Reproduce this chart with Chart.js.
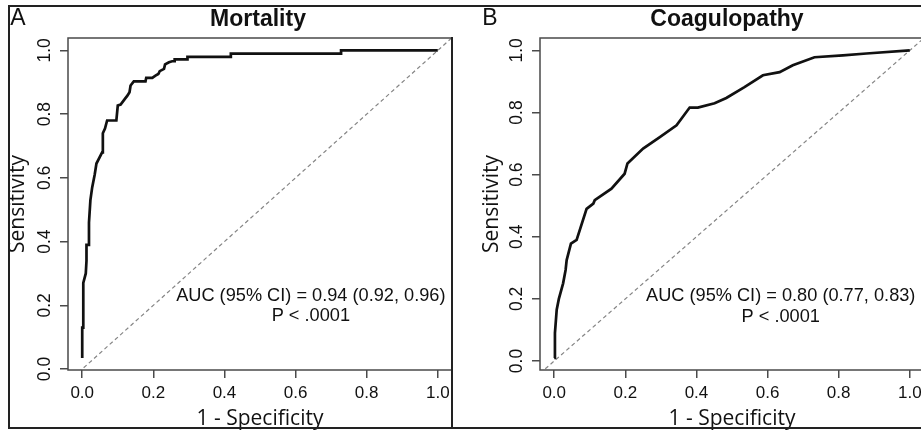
<!DOCTYPE html>
<html>
<head>
<meta charset="utf-8">
<script src="https://cdn.jsdelivr.net/npm/chart.js@4.4.1/dist/chart.umd.min.js"></script>
<style>
    html, body { margin: 0; padding: 0; background: #fff; }
    body { width: 921px; height: 430px; position: relative; overflow: hidden; }
    canvas { position: absolute; top: 0; }
    #rocA { left: 0; width: 460px; height: 430px; }
    #rocB { left: 460px; width: 470px; height: 430px; }
    .rule { position: absolute; background: #222; }
</style>
</head>
<body>
<canvas id="rocA" width="460" height="430"></canvas>
<canvas id="rocB" width="470" height="430"></canvas>
<div class="rule" style="left:8px; top:5px; width:913px; height:1.5px;"></div>
<div class="rule" style="left:8px; top:427px; width:913px; height:1.5px;"></div>
<div class="rule" style="left:8px; top:5px; width:1.5px; height:423px;"></div>
<div class="rule" style="left:451px; top:37px; width:1.5px; height:391px;"></div>
<script>
document.addEventListener('DOMContentLoaded', init);

const X_TICKS = [0, 0.2, 0.4, 0.6, 0.8, 1.0];
const Y_TICKS = [0, 0.2, 0.4, 0.6, 0.8, 1.0];
const CHANCE_LINE = [-0.04, 1.04];

// Mortality ROC (1 - specificity, sensitivity)
const mortalityFpr = [0.000, 0.000, 0.003, 0.003, 0.010, 0.012, 0.012, 0.019, 0.019, 0.023, 0.028,
    0.035, 0.040, 0.056, 0.058, 0.058, 0.064, 0.070, 0.096, 0.100, 0.108, 0.120, 0.127, 0.133,
    0.136, 0.145, 0.178, 0.180, 0.197, 0.206, 0.214, 0.218, 0.230, 0.233, 0.244, 0.253, 0.260,
    0.260, 0.296, 0.296, 0.418, 0.418, 0.728, 0.728, 1.000];
const mortalitySens = [0.035, 0.130, 0.130, 0.270, 0.300, 0.340, 0.390, 0.390, 0.460, 0.530, 0.570,
    0.610, 0.645, 0.680, 0.690, 0.740, 0.755, 0.780, 0.780, 0.827, 0.830, 0.848, 0.858, 0.869,
    0.890, 0.903, 0.903, 0.914, 0.914, 0.921, 0.926, 0.935, 0.942, 0.956, 0.963, 0.966, 0.966,
    0.972, 0.972, 0.980, 0.980, 0.990, 0.990, 1.000, 1.000];

// Coagulopathy ROC
const coagFpr = [0.000, 0.002, 0.007, 0.013, 0.025, 0.032, 0.035, 0.047, 0.063, 0.091, 0.110,
    0.114, 0.161, 0.198, 0.206, 0.250, 0.297, 0.344, 0.381, 0.404, 0.451, 0.484, 0.535, 0.587,
    0.634, 0.671, 0.732, 0.812, 0.878, 1.000];
const coagSens = [0.010, 0.090, 0.165, 0.200, 0.250, 0.293, 0.325, 0.378, 0.390, 0.490, 0.507,
    0.518, 0.555, 0.603, 0.636, 0.684, 0.721, 0.759, 0.816, 0.816, 0.830, 0.847, 0.882, 0.920,
    0.930, 0.952, 0.978, 0.984, 0.990, 1.000];

const ARIAL = '"Liberation Sans", Arial, sans-serif';

// box around the plot area, panel letter, bold title and the AUC note
const rocDecor = {
    id: 'rocDecor',
    afterDraw(chart, args, opts) {
        const { ctx, chartArea: a, scales: { x, y } } = chart;
        ctx.save();
        ctx.strokeStyle = '#4a4a4a';
        ctx.lineWidth = 1.5;
        ctx.strokeRect(a.left, a.top, a.right - a.left, a.bottom - a.top);

        ctx.fillStyle = '#111';
        ctx.textAlign = 'center';
        ctx.textBaseline = 'middle';
        ctx.font = `23px ${ARIAL}`;
        ctx.fillText(opts.letter, opts.letterX, 19);
        ctx.font = `bold 23px ${ARIAL}`;
        ctx.fillText(opts.title, opts.titleX, 20);

        ctx.font = `18.2px ${ARIAL}`;
        opts.note.forEach((line, i) => {
            ctx.fillText(line, x.getPixelForValue(opts.noteX), y.getPixelForValue(opts.noteY[i]));
        });
        ctx.restore();
    }
};

function init() {
    makeRoc('rocA', {
        fpr: mortalityFpr, sens: mortalitySens,
        yMin: -0.003, yMax: 1.039,
        axisWidth: 68, titlePad: 8, padRight: 8,
        decor: {
            letter: 'A', letterX: 18, title: 'Mortality', titleX: 258,
            note: ['AUC (95% CI) = 0.94 (0.92, 0.96)', 'P < .0001'],
            noteX: 0.643, noteY: [0.23, 0.165]
        }
    });
    makeRoc('rocB', {
        fpr: coagFpr, sens: coagSens,
        yMin: -0.029, yMax: 1.04,
        axisWidth: 80, titlePad: 22, padRight: 6,
        decor: {
            letter: 'B', letterX: 30, title: 'Coagulopathy', titleX: 267,
            note: ['AUC (95% CI) = 0.80 (0.77, 0.83)', 'P < .0001'],
            noteX: 0.637, noteY: [0.21, 0.1425]
        }
    });
}

function makeRoc(canvasId, cfg) {
    const ctx = document.getElementById(canvasId).getContext('2d');
    const curve = cfg.fpr.map((v, i) => ({ x: v, y: cfg.sens[i] }));
    const chance = CHANCE_LINE.map(v => ({ x: v, y: v }));

    return new Chart(ctx, {
        type: 'line',
        data: {
            datasets: [{
                data: curve,
                borderColor: '#111',
                borderWidth: 2.7,
                pointRadius: 0,
                tension: 0,
                fill: false
            }, {
                data: chance,
                borderColor: '#858585',
                borderWidth: 1.2,
                borderDash: [4, 3],
                pointRadius: 0,
                fill: false
            }]
        },
        options: {
            responsive: false,
            animation: false,
            events: [],
            layout: { padding: { top: 38, right: cfg.padRight, left: 0, bottom: 0 } },
            plugins: {
                legend: { display: false },
                tooltip: { enabled: false },
                rocDecor: cfg.decor
            },
            scales: {
                x: {
                    type: 'linear',
                    min: -0.04,
                    max: 1.04,
                    afterBuildTicks: s => { s.ticks = X_TICKS.map(v => ({ value: v })); },
                    afterFit: s => { s.height = 60; },
                    grid: { drawOnChartArea: false, drawTicks: true, tickLength: 8, color: '#4a4a4a', lineWidth: 1.5 },
                    border: { display: false },
                    ticks: {
                        color: '#111',
                        padding: 5,
                        maxRotation: 0,
                        font: { family: ARIAL, size: 17 },
                        callback: v => v.toFixed(1)
                    },
                    title: {
                        display: true,
                        text: '1 - Specificity',
                        color: '#111',
                        padding: { top: 0, bottom: 0 },
                        font: { family: '"Open Sans", sans-serif', size: 21, lineHeight: 1 }
                    }
                },
                y: {
                    type: 'linear',
                    min: cfg.yMin,
                    max: cfg.yMax,
                    afterBuildTicks: s => { s.ticks = Y_TICKS.map(v => ({ value: v })); },
                    afterFit: s => { s.width = cfg.axisWidth; },
                    grid: { drawOnChartArea: false, drawTicks: true, tickLength: 8, color: '#4a4a4a', lineWidth: 1.5 },
                    border: { display: false },
                    ticks: {
                        color: '#111',
                        padding: 3,
                        minRotation: 90,
                        maxRotation: 90,
                        crossAlign: 'center',
                        font: { family: ARIAL, size: 17.5 },
                        callback: v => v.toFixed(1)
                    },
                    title: {
                        display: true,
                        text: 'Sensitivity',
                        color: '#111',
                        padding: { top: cfg.titlePad, bottom: 0 },
                        font: { family: '"Open Sans", sans-serif', size: 21, lineHeight: 1 }
                    }
                }
            }
        },
        plugins: [rocDecor]
    });
}
</script>
</body>
</html>
